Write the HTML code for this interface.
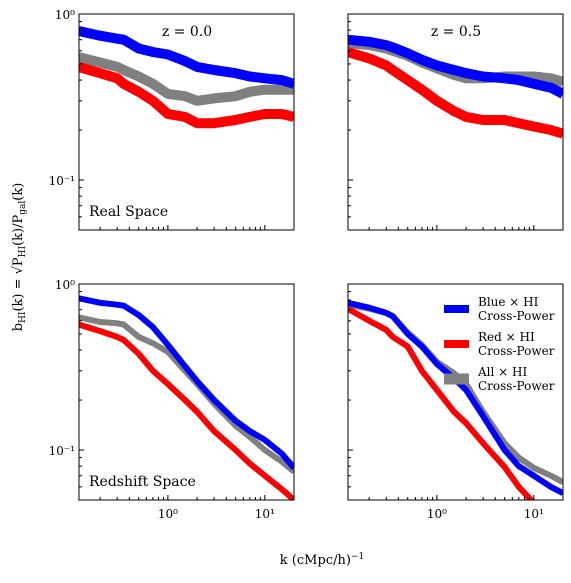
<!DOCTYPE html>
<html><head><meta charset="utf-8"><style>
body{margin:0;background:#fff;}
svg text{font-family:"DejaVu Serif","Liberation Serif",serif;fill:#000;}
</style></head><body>
<svg id="fig" width="571" height="578" xmlns="http://www.w3.org/2000/svg">
<text x="22" y="257" font-size="13" text-anchor="middle" transform="rotate(-90 22 257)">b<tspan font-size="9" dy="3">HI</tspan><tspan dy="-3">(k) = √P</tspan><tspan font-size="9" dy="3">HI</tspan><tspan dy="-3">(k)/P</tspan><tspan font-size="9" dy="3">gal</tspan><tspan dy="-3">(k)</tspan></text>
<text x="322" y="564" font-size="13" text-anchor="middle">k (cMpc/h)<tspan font-size="9" dy="-5">−1</tspan></text>
</svg>
<script>
const kvals=[0.12,0.2,0.3,0.35,0.5,0.7,1,1.5,2,3,5,7,10,15,20];
const tlBlue=[0.79,0.74,0.71,0.70,0.62,0.59,0.57,0.52,0.48,0.46,0.44,0.42,0.41,0.40,0.38];
const tlGray=[0.55,0.51,0.48,0.46,0.42,0.38,0.33,0.32,0.30,0.31,0.32,0.34,0.35,0.35,0.35];
const tlRed=[0.48,0.44,0.41,0.38,0.34,0.30,0.25,0.24,0.22,0.22,0.23,0.24,0.25,0.25,0.24];
const trBlue=[0.70,0.68,0.65,0.63,0.58,0.53,0.49,0.46,0.44,0.42,0.41,0.40,0.38,0.36,0.33];
const trGray=[0.67,0.65,0.62,0.60,0.56,0.51,0.47,0.43,0.41,0.41,0.42,0.42,0.42,0.41,0.39];
const trRed=[0.59,0.54,0.49,0.46,0.40,0.35,0.30,0.26,0.24,0.23,0.23,0.22,0.21,0.20,0.19];
const blBlue=[0.82,0.77,0.75,0.74,0.65,0.55,0.43,0.32,0.26,0.20,0.15,0.13,0.115,0.095,0.078];
const blGray=[0.63,0.59,0.58,0.57,0.48,0.44,0.39,0.30,0.25,0.19,0.14,0.12,0.10,0.085,0.074];
const blRed=[0.57,0.52,0.48,0.46,0.38,0.30,0.25,0.20,0.17,0.13,0.10,0.083,0.07,0.058,0.05];
const brBlue=[0.77,0.72,0.67,0.64,0.50,0.42,0.33,0.27,0.23,0.16,0.10,0.08,0.07,0.06,0.055];
const brGray=[0.75,0.71,0.67,0.64,0.51,0.43,0.34,0.29,0.25,0.17,0.11,0.09,0.078,0.07,0.064];
const brRed=[0.71,0.60,0.53,0.48,0.42,0.30,0.23,0.17,0.145,0.11,0.079,0.06,0.048,0.038,0.03];
const panelLabels=["Real Space","","Redshift Space",""];
const xTickLabels=["10⁰","10¹"];
const yTickLabels=["10⁰","10⁻¹"];
const NS="http://www.w3.org/2000/svg";
const svg=document.getElementById('fig');
const W=215,H=216,KMIN=0.121,KMAX=20,YMIN=0.05,YMAX=1;
const panels=[
 {x:79,y:14,name:'real-z0',s:[tlBlue,tlGray,tlRed],lw:10,yl:true,xl:false,title:"z = 0.0"},
 {x:348,y:14,name:'real-z05',s:[trBlue,trGray,trRed],lw:10,yl:false,xl:false,title:"z = 0.5"},
 {x:79,y:284,name:'redshift-z0',s:[blBlue,blGray,blRed],lw:6,yl:true,xl:true,title:""},
 {x:348,y:284,name:'redshift-z05',s:[brBlue,brGray,brRed],lw:6,yl:false,xl:true,title:""}];
const cols=['#0000ff','#808080','#ff0000'];
const snames=['blue','gray','red'];
function el(t,a){const e=document.createElementNS(NS,t);for(const k in a)e.setAttribute(k,a[k]);return e;}
panels.forEach((p,i)=>{
 const sx=k=>p.x+(Math.log10(k)-Math.log10(KMIN))/(Math.log10(KMAX)-Math.log10(KMIN))*W;
 const sy=v=>p.y+(Math.log10(YMAX)-Math.log10(v))/(Math.log10(YMAX)-Math.log10(YMIN))*H;
 const g=el('g',{});
 
 
 svg.appendChild(g);
 const cp=el('clipPath',{id:'cp'+i});cp.appendChild(el('rect',{x:p.x,y:p.y,width:W,height:H}));g.appendChild(cp);
 const lines=el('g',{'clip-path':'url(#cp'+i+')'});g.appendChild(lines);
 [1,0,2].forEach(j=>{
  const pts=kvals.map((k,n)=>sx(k).toFixed(1)+','+sy(p.s[j][n]).toFixed(1)).join(' ');
  const pl=el('polyline',{points:pts,fill:'none',stroke:cols[j],'stroke-width':p.lw,'stroke-linejoin':'round'});
  
  
  lines.appendChild(pl);
 });
 const fr=el('rect',{x:p.x,y:p.y,width:W,height:H,fill:'none',stroke:'#000','stroke-width':1});
 
 
 g.appendChild(fr);
 // x ticks
 for(let d=-1;d<=1;d++)for(let m=1;m<10;m++){const k=m*Math.pow(10,d);if(k<KMIN||k>KMAX)continue;const X=sx(k);const L=m==1?5:3;
  g.appendChild(el('line',{x1:X,x2:X,y1:p.y+H,y2:p.y+H-L,stroke:'#000'}));}
 for(let d=-2;d<=0;d++)for(let m=1;m<10;m++){const v=m*Math.pow(10,d);if(v<YMIN-1e-9||v>YMAX+1e-9)continue;const Y=sy(v);const L=m==1?5:3;
  g.appendChild(el('line',{x1:p.x,x2:p.x+L,y1:Y,y2:Y,stroke:'#000'}));}
 if(p.xl){[1,10].forEach((k,n)=>{const t=el('text',{x:sx(k),y:p.y+H+18,'font-size':12,'text-anchor':'middle'});t.textContent=xTickLabels[n];
  
  
  g.appendChild(t);});}
 if(p.yl){[1,0.1].forEach((v,n)=>{const t=el('text',{x:p.x-4,y:sy(v)+5,'font-size':12,'text-anchor':'end'});t.textContent=yTickLabels[n];
  
  
  g.appendChild(t);});}
 if(p.title){const t=el('text',{x:p.x+108,y:p.y+22,'font-size':14,'text-anchor':'middle'});t.textContent=p.title;
  
  
  g.appendChild(t);}
 if(panelLabels[i]){const t=el('text',{x:p.x+10,y:p.y+202,'font-size':14});t.textContent=panelLabels[i];
  
  
  g.appendChild(t);}
});
// legend
const legNames=['Blue × HI','Red × HI','All × HI'];
const legCols=['#0000ff','#ff0000','#808080'];
const legH=[8,8,11];
legNames.forEach((n,i)=>{
 const y0=309+i*35;
 const lg=el('g',{});
 
 
 svg.appendChild(lg);
 lg.appendChild(el('rect',{x:444,y:y0-legH[i]/2,width:25,height:legH[i],fill:legCols[i]}));
 const t1=el('text',{x:478,y:y0-3,'font-size':12});t1.textContent=n;lg.appendChild(t1);
 const t2=el('text',{x:478,y:y0+11,'font-size':12});t2.textContent='Cross-Power';lg.appendChild(t2);
});
</script>
</body></html>
